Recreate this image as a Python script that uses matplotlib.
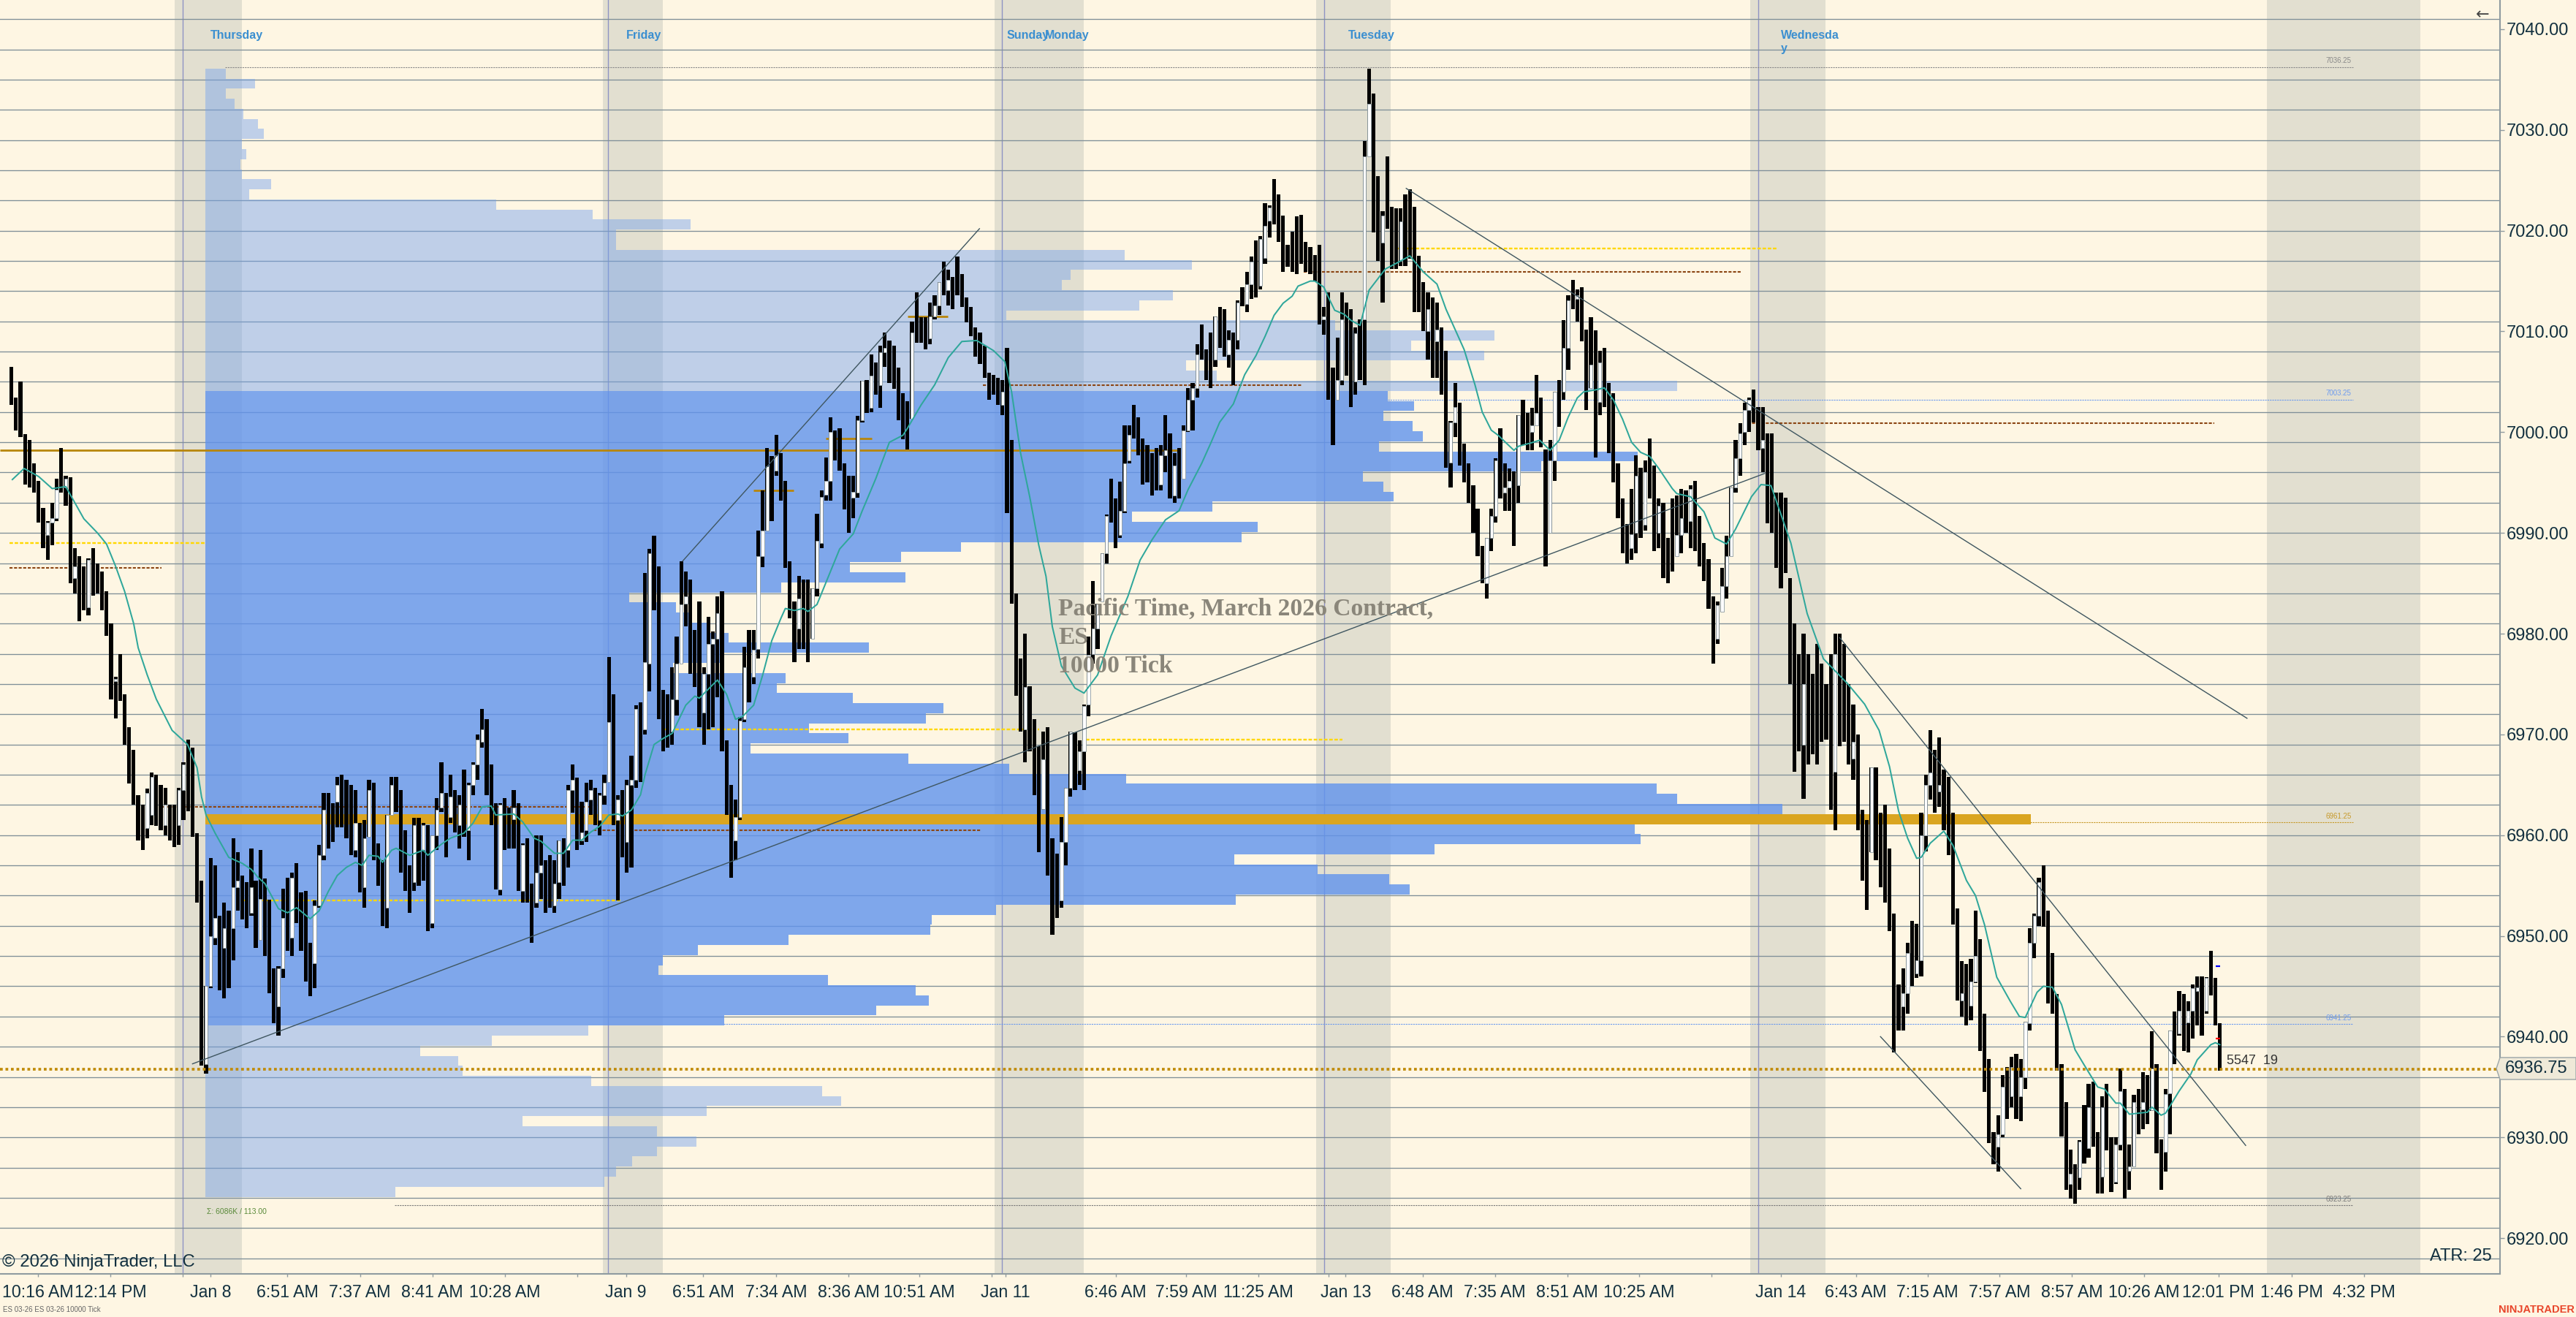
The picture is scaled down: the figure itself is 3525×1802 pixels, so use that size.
import numpy as np
import matplotlib
matplotlib.use('Agg')
import matplotlib.pyplot as plt
from matplotlib.patches import Polygon

plt.rcParams['font.family'] = ['Liberation Sans', 'DejaVu Sans']

W, H = 3525, 1802
CREAM = '#FEF6E3'
BAND = '#E2DFD0'
TXT = '#12303F'

highs = [
 7006.45,7003.45,7005,6999.8,6999.2,6996.9,6995.2,6992.5,6991.2,6993,
 6995.4,6998.4,6995.7,6995.5,6988.5,6987.7,6986.7,6987.5,6988.5,6987,
 6986.2,6984.2,6981,6975.7,6978,6974,6970.7,6968.5,6964,6963,
 6964.6,6966.2,6966,6965,6964.7,6963,6963,6964.7,6967.2,6969.5,
 6968.7,6960.2,6955.5,6945,6957.7,6957,6952,6953.3,6952.5,6959.7,
 6958.3,6956,6955.3,6958.7,6955.5,6958.5,6955.7,6953.6,6946.8,6947,
 6954.7,6955.8,6956.3,6957.2,6954.3,6954.5,6949.3,6953.5,6959,6964.2,
 6964.2,6963.2,6965.8,6966,6965.5,6965,6964.5,6961.2,6961.5,6965.5,
 6965.2,6959.2,6957.5,6962,6965.8,6965.8,6964.5,6960.5,6957,6961.7,
 6961.7,6961.2,6961,6960,6963.7,6967.2,6964.2,6966,6964.5,6964,
 6966.5,6965.2,6967.2,6970,6972.5,6971.5,6967,6963.2,6963.2,6963.7,
 6962.7,6964.5,6963.2,6959.2,6959.7,6955.2,6960,6960,6957.5,6958,
 6957.5,6959.5,6959.7,6965,6967,6965.7,6963.3,6965.2,6965.5,6964.7,
 6964.2,6966,6977.7,6974,6964,6964.5,6965.5,6967.9,6972.9,6973.2,
 6986,6988.4,6989.7,6986.7,6974.4,6974,6976.7,6979.7,6987.2,6986.2,
 6985.4,6980.4,6983.2,6976.7,6981.7,6980.2,6983.7,6984.2,6969.4,6965,
 6963.5,6971.7,6978.7,6980.4,6980.4,6990.2,6994.2,6998.4,6997.6,6999.7,
 6997.9,6995.2,6987.2,6983.2,6985.7,6985.4,6985.4,6984.5,6991.9,6994.2,
 6997.5,7001.5,7000.2,7000.4,6996.9,6995.7,6995.7,7001.6,7005.1,7005.2,
 7007.7,7006.9,7008.6,7009.9,7009.1,7008.6,7006.4,7003.9,7003.1,7011,
 7013.9,7011.4,7011.4,7012.9,7013.6,7014.9,7016.9,7016.1,7015.4,7017.4,
 7015.7,7013.4,7012.4,7010.4,7009.9,7008.6,7005.9,7005.65,7005.4,7005.2,
 7008.4,6999.2,6984,6977.5,6980,6974.8,6971.5,6968.8,6970.3,6970.7,
 6959.7,6958.2,6961.8,6964.7,6970.3,6970.2,6969.4,6973,6979.7,6985.2,
 6983,6988,6991.8,6995.4,6993.4,6995.1,7000.7,7000.7,7002.7,7001.5,
 6999.4,6998.7,6997.9,6998.4,6998.7,7001.7,6999.9,6997.9,6998.4,7000.7,
 7004.4,7004.9,7008.7,7010.7,7008.2,7009.9,7011.5,7012.4,7012.2,7010.1,
 7009.9,7013.1,7014.4,7015.9,7017.4,7019,7019.5,7022.7,7022.5,7025.1,
 7023.6,7021.5,7018.6,7019.9,7021.4,7021.6,7018.9,7018.4,7017.6,7018.6,
 7012.4,7013.9,7006.4,7009.4,7013.9,7012.9,7012.2,7010.4,7011.2,7028.9,
 7036.1,7033.6,7025.4,7021.9,7027.4,7022.4,7022.2,7022.2,7023.6,7024.1,
 7022.4,7017.5,7014.9,7013.9,7013.4,7012.9,7010.4,7008.1,7001.1,7004.9,
 7002.9,6998.9,6996.9,6994.7,6992.4,6988.7,6989.5,6992.4,6997.4,7000.4,
 6996.9,6996.4,6996.1,7001.7,7003.2,7001.9,7002.4,7005.65,7003.4,6998.3,
 6999.2,7004,7005.2,7011.1,7013.6,7015.1,7014.2,7014.4,7010.2,7011.4,
 7010.1,7008.1,7008.4,7004.9,7003.9,6996.9,6993.4,6990.9,6994.4,6997.7,
 6996.5,6997.2,6999.4,6996.7,6993.4,6993,6989.5,6993.4,6993.7,6994.4,
 6994.2,6994.7,6995.2,6991.7,6989,6987.4,6983.7,6983.2,6986.5,6989.7,
 6994.5,6999.2,7000.9,7002.9,7003.4,7004.2,7002.5,7002.5,6999.9,6999.9,
 6994,6994,6993.5,6985.5,6981,6978,6980,6978,6976,6979,
 6977,6975,6978,6980,6980,6979,6975,6973,6970,6962.5,
 6961.5,6966.7,6966.7,6962.2,6963,6958.7,6952.2,6945.2,6946.8,6949.3,
 6951.5,6951.2,6962.2,6966,6970.4,6968.5,6969.7,6966.5,6965.8,6962.2,
 6952.7,6947.5,6947.2,6947.7,6952.5,6949.7,6942.3,6937.8,6930.5,6932.2,
 6936.2,6937,6938,6938.3,6937.8,6941.5,6950.8,6952.2,6955.8,6957,
 6952.5,6948.3,6944.2,6937.3,6933.5,6928.8,6927.3,6929.7,6933.2,6935.3,
 6935.5,6930.5,6934.1,6935.3,6930,6930,6936.8,6934.8,6929.3,6934.2,
 6934.8,6936.5,6936.2,6940.5,6937.3,6929.8,6934.8,6940.6,6942.5,6944.5,
 6944.2,6943.5,6945.2,6946,6946,6945.9,6948.5,6945.8,6941.3]

lows = [
 7002.7,7000.2,6999.5,6994.8,6994.5,6994,6991,6988.5,6987.3,6988.8,
 6991.2,6994,6992.7,6985,6984,6981.2,6982.3,6981.8,6983.8,6984,
 6982.3,6979.8,6973.5,6971.6,6973.3,6969,6965.1,6963,6959.5,6958.5,
 6959.7,6961,6960.9,6960.5,6960,6959.5,6958.8,6959,6961.5,6962.4,
 6959.8,6953.3,6937.1,6936.3,6944.8,6949.1,6944.6,6943.8,6944.8,6947.6,
 6952.5,6951.6,6950.8,6952,6948.8,6949.6,6948,6944.3,6941.3,6940.1,
 6945.8,6948.5,6948,6951.3,6948.5,6945.5,6944,6944.8,6952.8,6957.5,
 6958.7,6959.3,6960.8,6960.8,6959.7,6958,6957.8,6954.3,6952.8,6959.8,
 6957.5,6955,6951,6950.8,6962,6962.3,6956.3,6954.5,6952.3,6954.5,
 6955,6955.5,6950.5,6950.8,6958.5,6962.3,6957.8,6961.2,6960.3,6958.7,
 6959.8,6957.5,6964,6965.5,6968.7,6964,6961,6954.6,6954,6958.5,
 6958.7,6958.7,6954.5,6953.3,6953.3,6949.3,6952.8,6953.7,6952.3,6952.8,
 6952.3,6953.7,6955,6956.8,6962.2,6958.5,6959,6959.3,6962,6961,
 6960,6963,6965.3,6961,6953.5,6957.8,6956.3,6956.8,6964.7,6965.3,
 6970,6974.3,6982.3,6971.5,6968.3,6968.7,6969,6971.9,6977,6980.7,
 6976,6974.7,6970.7,6969,6970.5,6970.7,6973.7,6968.3,6962,6955.8,
 6957.5,6961.5,6971.2,6973.2,6975,6977.5,6986.6,6990.2,6991.2,6995.7,
 6993.2,6986.5,6981.5,6977.2,6978.5,6978.5,6977.2,6979.5,6983.7,6988.5,
 6993.2,6993.2,6997.2,6996.2,6992.3,6990,6991.5,6993.5,7001,7001.9,
 7002,7003.7,7002.4,7006.5,7004.9,7004.3,7001.2,6999.3,6998.3,7001.3,
 7008.9,7008.9,7008.2,7008.7,7011.2,7011.6,7013.6,7012.6,7012.2,7013.6,
 7012.4,7010.9,7009.5,7007.5,7006.8,7005.4,7003.2,7003.7,7002.7,7001.7,
 6992,6983,6973.8,6970.3,6967.2,6968.3,6964,6958.3,6962.5,6956,
 6950.1,6951.8,6952.8,6957,6963.8,6964.5,6965,6964.5,6971.8,6977,
 6978.5,6983.2,6987,6991,6988.5,6989.5,6992,6996.9,6999.4,6997.7,
 6994.8,6995,6993.7,6994.2,6994.2,6996,6993.4,6993,6993.4,6995.4,
 7000,7000.2,7003.4,7007.2,7005.2,7004.4,7006.5,7008.4,7007.5,7006.4,
 7004.7,7008.2,7012.5,7011.9,7013.2,7013.4,7014.2,7016.7,7019.3,7020.6,
 7018.9,7015.9,7016.4,7015.9,7015.7,7016.7,7015.9,7015.7,7015,7010.7,
 7009.7,7003.2,6998.7,7003.2,7004.7,7005.6,7002.5,7003.7,7005.2,7004.7,
 7027.4,7019.8,7017,7012.9,7020.2,7016.2,7016.2,7016.5,7016.5,7017.2,
 7011.9,7011.9,7010,7007.2,7005.4,7005.4,7003.7,6996.5,6994.5,6999.5,
 6996.7,6995,6993,6990,6987.7,6985,6983.5,6988.2,6991,6993.4,
 6992.2,6992.2,6988.7,6993,6998.7,6998.2,6998.2,7000.7,6998.5,6986.7,
 6990,6995.2,7000.5,7003.2,7006.2,7012.2,7011,7009,7002.2,7004.4,
 6997.5,7001.7,7002.5,6997.9,6995,6991.5,6988,6987,6987.3,6988,
 6989.5,6990.2,6993.4,6988.2,6988.5,6985.5,6985,6986.2,6987.7,6988,
 6990,6988.5,6988.2,6986.7,6985.2,6982.5,6977,6979,6982.2,6983.5,
 6987.7,6994,6995.7,6998.7,7000,7001,6998.2,6996,6990.95,6990,
 6986.5,6984.5,6986,6975,6966.3,6968.3,6963.6,6967,6968,6967,
 6969.3,6969.5,6962.5,6960.5,6968.8,6969.3,6967,6965.5,6960.5,6955.5,
 6952.6,6958.3,6957.5,6954.8,6953.3,6950.5,6938.4,6940.6,6940.6,6942.3,
 6945,6945.8,6946,6958.4,6963.5,6962.2,6962.8,6960.5,6958,6951.1,
 6943.6,6942,6941.1,6941.6,6945.3,6938.6,6934.5,6929.4,6927.3,6926.6,
 6930,6931.8,6933,6931.8,6931.6,6934.8,6940.6,6947.8,6951,6950.9,
 6943.3,6942.3,6936.6,6930.1,6924.8,6923.9,6923.4,6924.8,6927.4,6928,
 6929.1,6924.4,6924.4,6928.7,6924.6,6925.4,6928.7,6923.9,6924.8,6927.1,
 6930.3,6930.8,6931.3,6932.6,6928.4,6924.8,6926.6,6930.3,6937.3,6940.1,
 6938.6,6938.4,6939.8,6941.1,6940.1,6942.3,6944.1,6941.1,6936.6]

# up bars only, down bars are solid black anyway: (bar, open, close)
up_bars = [
 (8,6989.8,6991),(9,6991,6991.5),(10,6991.5,6994.3),(12,6994.5,6995.4),(14,6985.5,6986.7),(17,6982.6,6987.3),
 (23,6975.3,6975.5),(30,6960.7,6964.2),(31,6962,6965.8),(34,6961,6963),(37,6961,6964.5),(38,6964.5,6967),
 (43,6937.3,6945),(44,6945,6950),(45,6949.8,6951.8),(47,6948.8,6950.8),(49,6950.8,6954.8),(50,6954.8,6955.5),
 (53,6952.3,6954.8),(55,6949.6,6953.7),(59,6943,6946.8),(60,6946.8,6951.8),(62,6949.8,6955.8),(67,6947.3,6953),
 (68,6953,6958),(69,6958,6962.5),(72,6963.3,6965),(76,6958.5,6961.2),(78,6954.8,6959.7),(79,6959.8,6964.5),
 (83,6952.8,6962),(84,6962,6965),(89,6955.3,6961),(91,6958.5,6961),(93,6951.3,6960),(94,6960,6962.5),
 (95,6962.7,6964.2),(97,6961.8,6963.8),(99,6961,6963),(101,6960.5,6965),(102,6965,6967),(103,6967,6969.5),
 (104,6969.3,6970.5),(108,6954.6,6963),(111,6961.6,6962.7),(113,6954.5,6959),(116,6953.3,6956.3),(117,6956.3,6957),
 (120,6953,6955.2),(121,6955.3,6959.5),(123,6958.5,6964.5),(124,6964.5,6965.5),(126,6959.5,6960.3),(127,6960.5,6963.3),
 (128,6963.5,6964.5),(130,6961.5,6964),(131,6964,6965.2),(132,6965.3,6971.2),(134,6961.5,6963.5),(136,6959.3,6965),
 (137,6965,6965.5),(138,6965.5,6972.5),(140,6970.5,6977.2),(141,6977,6988),(146,6970.3,6973.5),(147,6973.5,6977),
 (148,6977,6982.9),(149,6983,6983.7),(153,6972.2,6976),(154,6976,6979),(155,6979,6979.5),(156,6979.5,6982),
 (160,6959.5,6961.8),(161,6961.8,6971.4),(162,6971.5,6976.7),(164,6975.7,6978.4),(165,6978.5,6987.7),(166,6987.7,6990.2),
 (167,6990.2,6996.6),(169,6996.2,6997.7),(174,6980.5,6983.5),(177,6979.5,6984.5),(178,6984.5,6989.2),(179,6989,6993.6),
 (180,6993.8,6995.2),(181,6995.2,7000),(186,6993.5,6994.1),(187,6994,7001.2),(188,7001.2,7005.1),(190,7002.4,7005.6),
 (192,7004.7,7007.9),(193,7007.9,7008.4),(199,7001.3,7009.9),(203,7009.3,7011.5),(204,7011.5,7012.6),(205,7012.6,7014.9),
 (207,7014.1,7015.1),(219,7002.7,7004),(224,6970.5,6974.7),(228,6962.6,6967.5),(232,6953.5,6959.3),(233,6959.3,6964.7),
 (234,6964.7,6970.3),(236,6966.4,6968.3),(237,6968.3,6972.8),(238,6973,6977.9),(239,6978,6980.5),(240,6980.5,6983),
 (241,6983.2,6988),(242,6988,6991.7),(245,6989.8,6992.2),(246,6992.2,6996.9),(247,6997.2,6999.7),(254,6994.8,6997.7),
 (255,6997.7,6998.2),(257,6993.7,6996.7),(259,6995.4,7000.2),(260,7000.2,7003.2),(261,7003.2,7004.4),(262,7004.4,7007.7),
 (266,7007.2,7011.5),(269,7007.7,7009.2),(271,7009.2,7012.9),(273,7012.7,7014.7),(274,7014.7,7016.9),(276,7014.5,7019.2),
 (277,7017.3,7020.5),(278,7021,7022.3),(290,7011.2,7011.5),(293,7003.2,7005.2),(294,7005.2,7011.2),(297,7005,7009.8),
 (299,7011.2,7027.4),(300,7027.4,7032.6),(303,7018.8,7021.5),(307,7017,7020.9),(313,7010,7012.2),(315,7009,7010.2),
 (318,6997,7001),(319,7001,7002.5),(326,6985,6989.5),(327,6989.5,6991.7),(328,6991.7,6997.2),(330,6994,6994.5),
 (331,6994.5,6995.2),(333,6994.7,7001.7),(336,7000,7000.7),(337,7000.7,7001.9),(340,6990,6997.2),(341,6997.2,7004),
 (343,7004,7008.4),(344,7008.4,7013.1),(346,7013.2,7013.6),(349,7004.4,7006.7),(351,7003,7006.9),(358,6988.5,6989.9),
 (359,6990,6995.7),(361,6990.8,6996),(364,6990,6992.7),(368,6987.7,6989.8),(369,6989.8,6991.5),(371,6991.2,6994.4),
 (377,6979.5,6982.8),(378,6982.2,6984.7),(379,6984.7,6987.7),(380,6987.7,6994.5),(381,6994.5,6997.4),(382,6997.4,6999.9),
 (383,7000,7002.2),(384,7002.2,7003.2),(387,6998.4,6999.2),(396,6969,6975),(403,6966.3,6978),(407,6967.6,6969.3),
 (411,6958.3,6966.7),(418,6943,6944.3),(419,6944.3,6948.3),(421,6946.3,6947.6),(422,6947.6,6960),(423,6960,6965),
 (424,6965,6966.2),(426,6964.3,6965),(431,6943.6,6944.3),(433,6943.1,6945.5),(434,6945.5,6948),(439,6929.1,6930.3),
 (440,6930.3,6935),(442,6934.1,6937),(444,6934.1,6936),(445,6936,6941.5),(446,6941.3,6949.3),(447,6949.3,6952),
 (448,6952,6955.3),(455,6925.4,6926.4),(457,6926,6929.6),(459,6928.9,6933),(462,6926.1,6933),(465,6925.6,6929.3),
 (466,6929.3,6934.6),(468,6926.7,6927.1),(469,6927.1,6933.5),(471,6932.8,6933.5),(473,6932.7,6936.8),(476,6928.6,6934.3),
 (477,6934.4,6940.6),(479,6940.3,6942.6),(481,6941.4,6942.6),(482,6942.6,6944.8),(483,6944.5,6944.9),(485,6942.6,6945.8)]

# moving average, read at the turning points
ma_points = [
 (0.2,6995.3),(2.8,6996.4),(6,6995.6),(9,6994.4),(12,6994.6),(14,6993),(16,6991.4),(19,6990),(21,6988.9),(23,6986.7),
 (25,6984.2),(27,6981),(28,6978.6),(30,6975.9),(32,6973.5),(35.5,6970.4),(38.9,6969),(41,6966.7),(42,6963.8),(43,6962),
 (45,6960.2),(48,6957.8),(51,6957.2),(53,6956.6),(54.5,6955.8),(56,6955.2),(59,6952.7),(61,6952.3),(63,6952.8),(66,6951.7),
 (68,6952.5),(70,6954.4),(72,6956),(74,6956.8),(76,6957.3),(77.5,6957),(79,6958),(81,6957.9),(82,6957.3),(84,6958.5),
 (85,6958.7),(88,6958),(91,6958.5),(92,6958),(95,6959.1),(97,6959.7),(100,6960.2),(102,6961.2),(104,6962.8),(106,6962.9),
 (107,6962),(111,6962.1),(113,6961.3),(115.5,6959.7),(117,6959.4),(120,6958.2),(122,6958.2),(124,6959.5),(126,6959.5),(128,6960.3),
 (130,6960.9),(132,6962),(134,6962.1),(135,6961.9),(137,6962.5),(139,6964),(140,6966),(142,6969),(144,6969.6),(146,6970.1),
 (149,6972.9),(151,6973.8),(152,6973.6),(156,6975.4),(158,6974),(160,6971.5),(161.6,6971.8),(164,6972.9),(166,6975.9),(168,6979.3),
 (170,6981.5),(171,6982.5),(173,6982.3),(175,6982.5),(176,6982.2),(178,6982.9),(180,6985.1),(183,6988.4),(186,6989.9),(188,6992.2),
 (191,6995.4),(194,6999),(197,6999.7),(198,7000.4),(201,7002.7),(204,7004.7),(207,7007.4),(210,7009),(213.3,7009.1),(217,7008.1),
 (219.5,7007),(221,7004),(223,6997.9),(225,6993.6),(227,6988.8),(228.6,6985.7),(230,6980.7),(232,6976.8),(235,6974.6),(237,6974.1),
 (240,6975.9),(243,6979.8),(246.7,6983.7),(249.4,6987.3),(252,6989.3),(255,6991.3),(258,6992.2),(260,6994.3),(263,6996.9),(265,6998.9),
 (267,7001),(270,7002.8),(272.5,7005.7),(275,7007.6),(277,7009.5),(279,7011.6),(281,7012.8),(283,7013.5),(284.3,7014.5),(287,7015),
 (288,7015),(290,7014.4),(291,7013.4),(292.4,7012.1),(294.5,7011.7),(296,7011.1),(298,7010.6),(300,7014.1),(303.6,7016.2),(307,7017),
 (309,7017.5),(312,7015.9),(315,7014.7),(317,7012.2),(321,7008.2),(323.4,7004.7),(325,7002),(327,7000.2),(328.5,6999.7),(332,6998.2),
 (333,6998.6),(335.5,6998.9),(337.7,6999.2),(340,6998.2),(342,6999.2),(344,7001.5),(346,7003.4),(347.4,7004),(350,7004.2),(352,7004.4),
 (354,7003.2),(356,7001.3),(358,6999),(360,6998),(362,6997.6),(364,6996.4),(367,6994.4),(368,6993.9),(371,6993.6),(374,6992.1),
 (376.4,6989.5),(379,6988.9),(381,6990.4),(384.5,6993.6),(386.6,6994.8),(388.8,6994.7),(393.2,6989),(396.8,6982),(400.4,6977.5),(405.8,6975),
 (409.5,6973),(412.7,6970.4),(415,6966.8),(417,6962.4),(419,6959.7),(421,6957.7),(422,6957.8),(424,6959.2),(427,6960.4),(429,6959),
 (432,6955.5),(434,6954),(436,6951.1),(438.7,6945.9),(441.7,6943.5),(443.7,6942),(445,6941.9),(447.6,6944.4),(449,6945),(451,6944.9),
 (453,6943.2),(456,6938.7),(458,6937.2),(461,6935),(462.5,6934.8),(465,6933.4),(466,6933.4),(468,6932.3),(472,6932.5),(473,6933),
 (475,6932.2),(476,6932.4),(479,6934.6),(481.6,6936.3),(483,6937.7),(486,6939.2),(487,6939.4),(488,6939.2)]

# volume profile: one point bins, from 7035.1 down to 6924.1, volume in K
vp_top_level = 7035.1
vp_volume = [
 1.4,3.4,1.4,2,2.6,3.6,4,2.5,2.8,2.4,2.5,4.5,3,19.9,26.5,33.2,28.1,28.1,
 62.9,67.5,59.2,58.6,66.2,63.9,54.8,77.3,88.2,82.5,87.5,67.1,69.2,100.7,
 80.9,82.7,80.6,82.6,83.3,80.3,98,91.4,79.2,80.6,81.3,68.9,63.4,72,70.9,
 51.7,47.6,44.1,47.9,39.4,29,32.2,33.1,34.3,35.8,45.4,35.2,32,39.7,39.1,44.3,
 50.5,49.3,41.3,44,37.3,48.1,55,63,99.3,100.7,107.9,124.9,97.8,98.2,84.1,70.4,
 76.1,81,82.4,70.5,54.1,49.7,49.6,39.9,33.7,31.3,31,42.6,48.6,49.5,45.9,35.5,
 26.2,19.6,14.7,17.3,17.6,26.4,42.2,43.5,34.3,21.7,30.9,33.6,30.9,29.2,28.1,27.3,13]
vp_start_bar = 42.84
va_high = 7003.1
va_low = 6941.1
poc_level = 6961.1

session_bands = [(36.06,50.9),(130.7,143.9),(217.2,236.9),(288.3,304.7),(384.2,400.8),(498.4,532.3)]
session_lines = [37.8,131.9,218.8,290,386]

# horizontal levels (start bar, end bar, price)
brown_levels = [(-0.4,33.2,6986.5),(33.5,127.8,6962.8),(128.6,214.2,6960.5),(214.7,285.2,7004.7),(285.5,382.1,7015.9),(382.6,486.7,7000.9)]
yellow_levels = [(-0.4,43,6989),(51.4,134.7,6953.55),(144.4,227.1,6970.5),(237.4,294.1,6969.5),(305.7,390.3,7018.2)]
gold_segments = [(-2.6,257.9,6998.2),(163.9,172.8,6994.2),(179.9,190.1,6999.4),(198,206.9,7011.5)]
thin_levels = [(47.2,517.4,7036.25,'#8A8A8A'),(304.1,517.4,7003.25,'#6D9BEF'),(446,517.4,6961.25,'#C79A2B'),
               (157.3,517.4,6941.25,'#6D9BEF'),(84.7,517.4,6923.25,'#7A7A7A')]
last_price = 6936.75

trend_lines = [((40,6937.3),(387.4,6995.9)),((148.3,6987.2),(213.9,7020.2)),((308.2,7024.2),(494,6971.6)),
               ((404,6979.6),(493.7,6929.2)),((413,6940),(444,6924.9))]

tick_bars = [5.9,21.9,37.8,44,61,77,93,109,125,135.8,152.8,169,185,200.6,216.6,219.6,244,259.6,275.5,291,294.8,
             311.8,327.8,343.8,359.7,375.7,391,407.6,423.4,439.3,455.3,471.2,487.7,503.8,519.8]
tick_labels = ['10:16 AM','12:14 PM','','Jan 8','6:51 AM','7:37 AM','8:41 AM','10:28 AM','','Jan 9','6:51 AM','7:34 AM','8:36 AM',
               '10:51 AM','','Jan 11','6:46 AM','7:59 AM','11:25 AM','','Jan 13','6:48 AM','7:35 AM','8:51 AM','10:25 AM','',
               'Jan 14','6:43 AM','7:15 AM','7:57 AM','8:57 AM','10:26 AM','12:01 PM','1:46 PM','4:32 PM']

day_names = ['Thursday','Friday','Sunday','Monday','Tuesday','Wednesda\ny']
day_px = [288,857,1378,1430,1845,2437]

def fx(x):
    return x/W
def fy(y):
    return 1-y/H

fig = plt.figure(figsize=(W/100,H/100), dpi=100, facecolor=CREAM)
ax = fig.add_axes([0, fy(1743), 3421/W, 1743/H], facecolor=CREAM)
ax.set_xlim(-2.535, 549.9)
ax.set_ylim(6916.45, 7042.9)

for a,b in session_bands:
    ax.axvspan(a, b, color=BAND, lw=0, zorder=1)
for v in session_lines:
    ax.axvline(v, color='#8F93C4', lw=1, zorder=1.5)

for g in range(6918, 7042, 3):
    ax.axhline(g, color='#7F8F98', lw=0.95, zorder=2)

# profile
vp_scale = 20/6.193
for k,vol in enumerate(vp_volume):
    lev = vp_top_level-k
    if abs(lev-poc_level) < 0.01:
        ax.barh(lev, vol*vp_scale, height=1, left=vp_start_bar, align='edge', color='#DAA520', lw=0, zorder=3)
    elif va_low-0.01 <= lev <= va_high+0.01:
        ax.barh(lev, vol*vp_scale, height=1, left=vp_start_bar, align='edge', color='#6093EE', alpha=0.8, lw=0, zorder=3)
    else:
        ax.barh(lev, vol*vp_scale, height=1, left=vp_start_bar, align='edge', color='#75A3EE', alpha=0.46, lw=0, zorder=3)

for a,b,p in brown_levels:
    ax.plot([a,b],[p,p], color='#8B4513', lw=1.5, ls=(0,(2,1)), zorder=4)
for a,b,p in yellow_levels:
    ax.plot([a,b],[p,p], color='#FFD700', lw=1.7, ls=(0,(2,1)), zorder=4)
for a,b,p in gold_segments:
    ax.plot([a,b],[p,p], color='#B8860B', lw=2, zorder=4, solid_capstyle='butt')
for a,b,p,c in thin_levels:
    ax.plot([a,b],[p,p], color=c, lw=0.8, ls=(0,(2,1)), zorder=4)
    ax.text(514.2, p+0.25, '%.2f' % p, color=c, fontsize=7, ha='center', va='bottom', zorder=4)

# price bars
x = np.arange(len(highs))
ax.bar(x, np.array(highs)-np.array(lows), bottom=lows, width=0.84, color='#000000', lw=0, zorder=5)
up_x = [u[0] for u in up_bars]
up_o = np.array([u[1] for u in up_bars])
up_c = np.array([u[2] for u in up_bars])
ax.bar(up_x, up_c-up_o, bottom=up_o, width=0.7, color='white', edgecolor='#8C9AA0', lw=0.6, zorder=6)

for p0,p1 in trend_lines:
    ax.plot([p0[0],p1[0]],[p0[1],p1[1]], color='#3F5660', lw=1.0, zorder=7)

ax.plot([p[0] for p in ma_points],[p[1] for p in ma_points], color='#2FA79B', lw=1.45, zorder=8)

ax.plot([-2.6,550],[last_price,last_price], color='#C08C0B', lw=2.7, ls=(0,(1,1)), zorder=8)
ax.hlines(6947, 487.1, 488.1, color='#0000FF', lw=1.6, zorder=9)
ax.hlines(6939.8, 487.1, 488.1, color='#FF0000', lw=1.6, zorder=9)

# axes
for s in ['top','left']:
    ax.spines[s].set_visible(False)
for s in ['right','bottom']:
    ax.spines[s].set_color('#8F9BA0')
    ax.spines[s].set_linewidth(1.5)
ax.yaxis.tick_right()
ax.set_yticks(np.arange(6920, 7041, 10))
ax.set_yticklabels(['%.2f' % v for v in np.arange(6920, 7041, 10)])
ax.set_xticks(tick_bars)
ax.set_xticklabels(tick_labels)
ax.tick_params(axis='y', length=4, width=1, color='#8F9BA0', labelcolor=TXT, labelsize=17, pad=2)
ax.tick_params(axis='x', length=3, width=1, color='#8F9BA0', labelcolor=TXT, labelsize=16.7, pad=7)

# texts
for name,px in zip(day_names, day_px):
    fig.text(fx(px), fy(41), name, color='#3B8FD0', fontsize=11.5, fontweight='bold', va='top', ha='left', linespacing=1.25, zorder=10)

fig.text(fx(1448), fy(818), 'Pacific Time, March 2026 Contract,\nES\n10000 Tick', family='Liberation Serif', color='#8A867A',
         fontsize=24.2, fontweight='bold', va='top', ha='left', linespacing=1.33, zorder=10)
fig.text(fx(3), fy(1733), '\u00a9 2026 NinjaTrader, LLC', color=TXT, fontsize=17.2, va='baseline', ha='left')
fig.text(fx(3410), fy(1719), 'ATR: 25', color=TXT, fontsize=17, va='center', ha='right')
fig.text(fx(3047), fy(1452), '5547  19', color='#333333', fontsize=13, va='center', ha='left')
fig.text(fx(283), fy(1658), '\u03a3: 6086K / 113.00', color='#5A8A3A', fontsize=7.5, va='center', ha='left')
fig.text(fx(4), fy(1792), 'ES 03-26 ES 03-26 10000 Tick', color='#666666', fontsize=7, va='center', ha='left')
fig.text(fx(3523), fy(1792), 'NINJATRADER', color='#E8452A', fontsize=10.5, fontweight='bold', va='center', ha='right')
fig.text(fx(3397), fy(20), '\u2190', color='#444444', fontsize=16, va='center', ha='center', family='DejaVu Sans')

# last price flag
flag = Polygon([(fx(3416),fy(1462)),(fx(3421),fy(1447)),(fx(3525),fy(1447)),(fx(3525),fy(1477)),(fx(3421),fy(1477))],
               closed=True, transform=fig.transFigure, facecolor='#EFE9D8', edgecolor='#9AA5A8', lw=1, zorder=20, clip_on=False)
fig.add_artist(flag)
fig.text(fx(3428), fy(1462), '%.2f' % last_price, color=TXT, fontsize=17, va='center', ha='left', zorder=21)

fig.savefig('out.png', dpi=100, facecolor=CREAM)
